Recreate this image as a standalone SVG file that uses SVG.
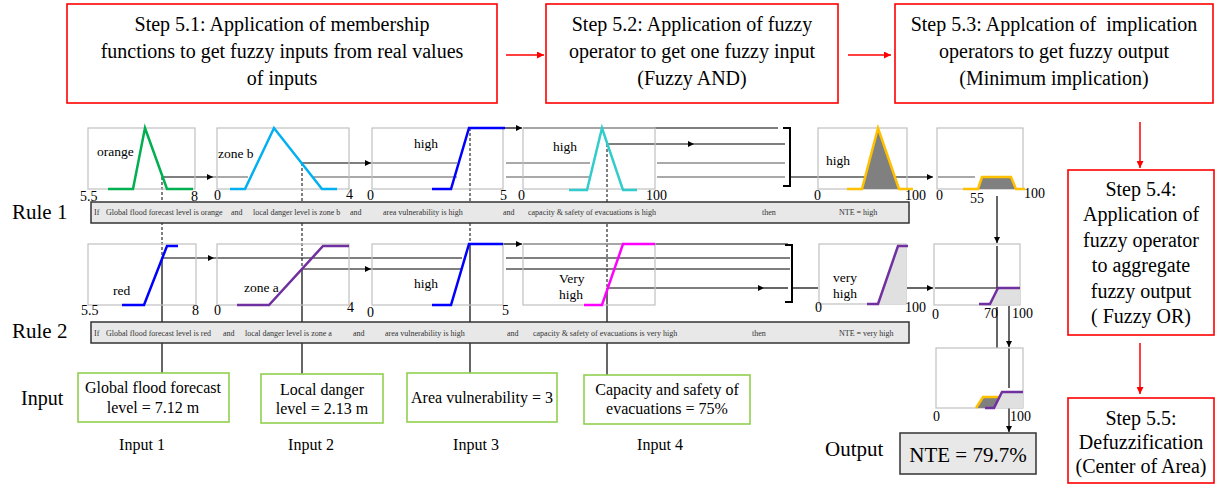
<svg xmlns="http://www.w3.org/2000/svg" width="1217" height="484" viewBox="0 0 1217 484">
<style>
.t{font-family:"Liberation Serif","Times New Roman",serif;fill:#000}
.step{fill:#fff;stroke:#ff0000;stroke-width:1.6}
.st{font-size:20px;text-anchor:middle}
.mf{fill:none;stroke:#c0c0c0;stroke-width:1.2}
.ax{font-size:14px}
.lab{font-size:13.5px}
.bar{fill:#e8e8e8;stroke:#333;stroke-width:1.5}
.bt{font-size:8px;fill:#333}
.in{fill:#fff;stroke:#92d050;stroke-width:1.6}
.it{font-size:16px;text-anchor:middle}
.big{font-size:21px}
.c{fill:none;stroke:#000;stroke-width:1.2}
.cg{fill:none;stroke:#555;stroke-width:1.2}
.d{fill:none;stroke:#000;stroke-width:1;stroke-dasharray:3 2}
.red{fill:none;stroke:#ff0000;stroke-width:1.5}
.cv{fill:none;stroke-width:2.5}
</style>
<defs>
<marker id="ah" viewBox="0 0 10 10" refX="10" refY="5" markerWidth="9" markerHeight="6" markerUnits="userSpaceOnUse" orient="auto"><path d="M0,0 L10,5 L0,10 z" fill="#000"/></marker>
<marker id="ahr" viewBox="0 0 10 10" refX="10" refY="5" markerWidth="9" markerHeight="7" markerUnits="userSpaceOnUse" orient="auto"><path d="M0,0 L10,5 L0,10 z" fill="#ff0000"/></marker>
</defs>
<rect width="1217" height="484" fill="#fff"/>

<!-- connectors -->
<g id="connectors">
  <!-- step arrows -->
  <path class="red" d="M506,55 H544" marker-end="url(#ahr)"/>
  <path class="red" d="M848,55 H891" marker-end="url(#ahr)"/>
  <path class="red" d="M1140,122 V168" marker-end="url(#ahr)"/>
  <path class="red" d="M1140,343 V394" marker-end="url(#ahr)"/>
  <!-- input verticals -->
  <path class="d" d="M162,177 V258"/>
  <path class="c" d="M162,258 V373"/>
  <path class="d" d="M302,163 V269"/>
  <path class="c" d="M302,269 V374"/>
  <path class="d" d="M470,128 V244"/>
  <path class="c" d="M470,244 V373"/>
  <path class="d" d="M607,144 V288"/>
  <path class="c" d="M607,288 V375"/>
  <!-- rule 1 levels -->
  <path class="c" d="M162,177 H213" marker-end="url(#ah)"/>
  <path class="cg" d="M213,177 H248 M313,177 H457 M506,177 H590 M657,177 H785"/>
  <path class="c" d="M302,163 H371" marker-end="url(#ah)"/>
  <path class="cg" d="M371,163 H457 M506,163 H590 M657,163 H785"/>
  <path class="c" d="M503,128 H522" marker-end="url(#ah)"/>
  <path class="c" d="M523,128 H778"/>
  <path class="c" d="M607,144 H694" marker-end="url(#ah)"/>
  <path class="c" d="M694,144 H785"/>
  <path fill="none" stroke="#000" stroke-width="2" d="M783,128 H790 V186 H783"/>
  <path class="c" d="M791,177 H933" marker-end="url(#ah)"/>
  <path class="cg" d="M938,177 H975"/>
  <!-- rule 2 levels -->
  <path class="c" d="M162,258 H214" marker-end="url(#ah)"/>
  <path class="c" d="M214,258 H462 M506,258 H790"/>
  <path class="c" d="M302,269 H371" marker-end="url(#ah)"/>
  <path class="c" d="M371,269 H462 M506,269 H790"/>
  <path class="c" d="M503,244 H522" marker-end="url(#ah)"/>
  <path class="c" d="M523,244 H788"/>
  <path class="c" d="M607,288 H764" marker-end="url(#ah)"/>
  <path class="c" d="M764,288 H788"/>
  <path fill="none" stroke="#000" stroke-width="2" d="M785,245 H792 V302 H785"/>
  <path class="c" d="M793,288 H818"/>
  <path class="c" d="M907,288 H933" marker-end="url(#ah)"/>
  <path class="c" d="M935,288 H997"/>
  <!-- aggregation -->
  <path class="c" d="M997,196 V243" marker-end="url(#ah)"/>
  <path class="c" d="M997,246 V288 M997,307 V348"/>
  <path class="c" d="M1009,306 V347" marker-end="url(#ah)"/>
  <path class="c" d="M1009,348 V388"/>
  <circle cx="1009" cy="399" r="3" fill="#000"/>
  <path class="c" d="M1009,399 V432" marker-end="url(#ah)"/>
</g>

<!-- steps -->
<g id="step51">
  <rect class="step" x="67" y="4" width="430" height="99"/>
  <text class="t st" x="282" y="31">Step 5.1: Application of membership</text>
  <text class="t st" x="282" y="58">functions to get fuzzy inputs from real values</text>
  <text class="t st" x="282" y="85">of inputs</text>
</g>
<g id="step52">
  <rect class="step" x="546" y="4" width="292" height="99"/>
  <text class="t st" x="692" y="31">Step 5.2: Application of fuzzy</text>
  <text class="t st" x="692" y="58">operator to get one fuzzy input</text>
  <text class="t st" x="692" y="85">(Fuzzy AND)</text>
</g>
<g id="step53">
  <rect class="step" x="895" y="4" width="318" height="99"/>
  <text class="t st" x="1054" y="31" xml:space="preserve">Step 5.3: Applcation of  implication</text>
  <text class="t st" x="1054" y="58">operators to get fuzzy output</text>
  <text class="t st" x="1054" y="85">(Minimum implication)</text>
</g>
<g id="step54">
  <rect class="step" x="1068" y="170" width="146" height="165"/>
  <text class="t st" x="1141" y="196">Step 5.4:</text>
  <text class="t st" x="1141" y="221">Application of</text>
  <text class="t st" x="1141" y="247">fuzzy operator</text>
  <text class="t st" x="1141" y="272">to aggregate</text>
  <text class="t st" x="1141" y="298">fuzzy output</text>
  <text class="t st" x="1141" y="323">( Fuzzy OR)</text>
</g>
<g id="step55">
  <rect class="step" x="1068" y="398" width="146" height="85"/>
  <text class="t st" x="1141" y="425">Step 5.5:</text>
  <text class="t st" x="1141" y="449">Defuzzification</text>
  <text class="t st" x="1141" y="473">(Center of Area)</text>
</g>

<!-- row labels -->
<text class="t big" x="12" y="219">Rule 1</text>
<text class="t big" x="12" y="338">Rule 2</text>
<text class="t" font-size="20" x="21" y="405">Input</text>

<!-- rule 1 MF boxes -->
<g id="r1-in1">
  <rect class="mf" x="88" y="128" width="107" height="61"/>
  <polyline class="cv" stroke="#00b050" points="108,189 133,189 145,128 167,189 193,189"/>
  <text class="t lab" x="97" y="156">orange</text>
  <text class="t ax" x="80" y="201">5.5</text>
  <text class="t ax" x="191" y="201">8</text>
</g>
<g id="r1-in2">
  <rect class="mf" x="217" y="128" width="132" height="61"/>
  <polyline class="cv" stroke="#00b0f0" points="230,189 245,189 274,128 322,189 337,189"/>
  <text class="t lab" x="218" y="158">zone b</text>
  <text class="t ax" x="214" y="200">0</text>
  <text class="t ax" x="346" y="199">4</text>
</g>
<g id="r1-in3">
  <rect class="mf" x="372" y="128" width="131" height="61"/>
  <polyline class="cv" stroke="#0000ff" points="432,189 451,189 469,128 505,128"/>
  <text class="t lab" x="414" y="148">high</text>
  <text class="t ax" x="367" y="200">0</text>
  <text class="t ax" x="500" y="200">5</text>
</g>
<g id="r1-in4">
  <rect class="mf" x="523" y="128" width="132" height="61"/>
  <polyline class="cv" stroke="#33cccc" points="569,190 587,190 602,128 623,190 637,190"/>
  <text class="t lab" x="553" y="151">high</text>
  <text class="t ax" x="518" y="200">0</text>
  <text class="t ax" x="646" y="200">100</text>
</g>
<g id="r1-out">
  <rect class="mf" x="818" y="128" width="89" height="61"/>
  <polygon fill="#808080" points="862,189 878,128 899,189"/>
  <polyline class="cv" stroke="#ffc000" points="847,189 862,189 878,128 899,189 913,189"/>
  <text class="t lab" x="826" y="165">high</text>
  <text class="t ax" x="814" y="200">0</text>
  <text class="t ax" x="905" y="200">100</text>
</g>
<g id="r1-impl">
  <rect class="mf" x="937" y="128" width="86" height="61"/>
  <polygon fill="#808080" points="978,189 982,177 1011,177 1016,189"/>
  <polyline class="cv" stroke="#ffc000" points="963,189 978,189 982,177 1011,177 1016,189 1025,189"/>
  <text class="t ax" x="936" y="200">0</text>
  <text class="t ax" x="970" y="203">55</text>
  <text class="t ax" x="1024" y="198">100</text>
</g>

<!-- rule 1 bar -->
<g id="rule1">
  <rect class="bar" x="91" y="202" width="818" height="21"/>
  <text class="t bt" x="94" y="215">If</text>
  <text class="t bt" x="106" y="215">Global flood forecast level is orange</text>
  <text class="t bt" x="231" y="215">and</text>
  <text class="t bt" x="253" y="215">local danger level is zone b</text>
  <text class="t bt" x="350" y="215">and</text>
  <text class="t bt" x="383" y="215">area vulnerability is high</text>
  <text class="t bt" x="503" y="215">and</text>
  <text class="t bt" x="528" y="215">capacity &amp; safety of evacuations is high</text>
  <text class="t bt" x="762" y="215">then</text>
  <text class="t bt" x="839" y="215">NTE = high</text>
</g>

<!-- rule 2 MF boxes -->
<g id="r2-in1">
  <rect class="mf" x="88" y="244" width="108" height="61"/>
  <polyline class="cv" stroke="#0000ff" points="122,305 144,305 167,246 178,246"/>
  <text class="t lab" x="113" y="295">red</text>
  <text class="t ax" x="81" y="315">5.5</text>
  <text class="t ax" x="192" y="315">8</text>
</g>
<g id="r2-in2">
  <rect class="mf" x="217" y="244" width="132" height="61"/>
  <polyline class="cv" stroke="#7030a0" points="237,305 269,305 323,246 349,246"/>
  <text class="t lab" x="244" y="292">zone a</text>
  <text class="t ax" x="214" y="315">0</text>
  <text class="t ax" x="347" y="312">4</text>
</g>
<g id="r2-in3">
  <rect class="mf" x="372" y="244" width="131" height="61"/>
  <polyline class="cv" stroke="#0000ff" points="432,305 451,305 469,244 503,244"/>
  <text class="t lab" x="414" y="288">high</text>
  <text class="t ax" x="367" y="317">0</text>
  <text class="t ax" x="502" y="315">5</text>
</g>
<g id="r2-in4">
  <rect class="mf" x="523" y="244" width="132" height="61"/>
  <polyline class="cv" stroke="#ff00ff" points="584,305 602,305 623,244 655,244"/>
  <text class="t lab" x="559" y="283">Very</text>
  <text class="t lab" x="559" y="299">high</text>
</g>
<g id="r2-out">
  <rect class="mf" x="819" y="244" width="87" height="60"/>
  <polygon fill="#e0e0e0" points="878,304 898,246 906,246 906,304"/>
  <polyline class="cv" stroke="#7030a0" points="867,304 878,304 898,246 908,246"/>
  <text class="t lab" x="833" y="282">very</text>
  <text class="t lab" x="833" y="298">high</text>
  <text class="t ax" x="815" y="312">0</text>
  <text class="t ax" x="905" y="312">100</text>
</g>
<g id="r2-impl">
  <rect class="mf" x="934" y="244" width="86" height="61"/>
  <polygon fill="#e0e0e0" points="990,304 998,288 1020,288 1020,304"/>
  <polyline class="cv" stroke="#7030a0" stroke-width="2" points="979,304 990,304 998,288 1020,288"/>
  <text class="t ax" x="932" y="319">0</text>
  <text class="t ax" x="984" y="318">70</text>
  <text class="t ax" x="1012" y="318">100</text>
</g>

<!-- rule 2 bar -->
<g id="rule2">
  <rect class="bar" x="91" y="322" width="818" height="21"/>
  <text class="t bt" x="94" y="336">If</text>
  <text class="t bt" x="106" y="336">Global flood forecast level is red</text>
  <text class="t bt" x="223" y="336">and</text>
  <text class="t bt" x="245" y="336">local danger level is zone a</text>
  <text class="t bt" x="353" y="336">and</text>
  <text class="t bt" x="385" y="336">area vulnerability is high</text>
  <text class="t bt" x="507" y="336">and</text>
  <text class="t bt" x="533" y="336">capacity &amp; safety of evacuations is very high</text>
  <text class="t bt" x="752" y="336">then</text>
  <text class="t bt" x="839" y="336">NTE = very high</text>
</g>

<!-- aggregation -->
<g id="aggregate">
  <rect class="mf" x="936" y="348" width="87" height="60"/>
  <polygon fill="#808080" points="977,408 983,397 999,397 994,408"/>
  <polygon fill="#e0e0e0" points="994,408 1002,392 1023,392 1023,408"/>
  <polyline class="cv" stroke="#ffc000" points="976,408 983,397 999,397"/>
  <polyline class="cv" stroke="#7030a0" stroke-width="2" points="985,408 994,408 1002,392 1023,392"/>
  <text class="t ax" x="933" y="421">0</text>
  <text class="t ax" x="1010" y="421">100</text>
</g>

<!-- inputs -->
<g id="input1">
  <rect class="in" x="78" y="373" width="151" height="49"/>
  <text class="t it" x="153" y="393">Global flood forecast</text>
  <text class="t it" x="153" y="413">level = 7.12 m</text>
  <text class="t it" x="142" y="450">Input 1</text>
</g>
<g id="input2">
  <rect class="in" x="261" y="374" width="122" height="49"/>
  <text class="t it" x="322" y="395">Local danger</text>
  <text class="t it" x="322" y="414">level = 2.13 m</text>
  <text class="t it" x="311" y="450">Input 2</text>
</g>
<g id="input3">
  <rect class="in" x="407" y="373" width="150" height="49"/>
  <text class="t it" x="482" y="403">Area vulnerability = 3</text>
  <text class="t it" x="476" y="450">Input 3</text>
</g>
<g id="input4">
  <rect class="in" x="584" y="375" width="166" height="49"/>
  <text class="t it" x="667" y="395">Capacity and safety of</text>
  <text class="t it" x="667" y="414">evacuations = 75%</text>
  <text class="t it" x="660" y="450">Input 4</text>
</g>

<!-- output -->
<g id="output">
  <text class="t big" x="825" y="456">Output</text>
  <rect x="900" y="433" width="136" height="41" fill="#e8e8e8" stroke="#333" stroke-width="1.5"/>
  <text class="t big" x="968" y="462" text-anchor="middle">NTE = 79.7%</text>
</g>
</svg>
